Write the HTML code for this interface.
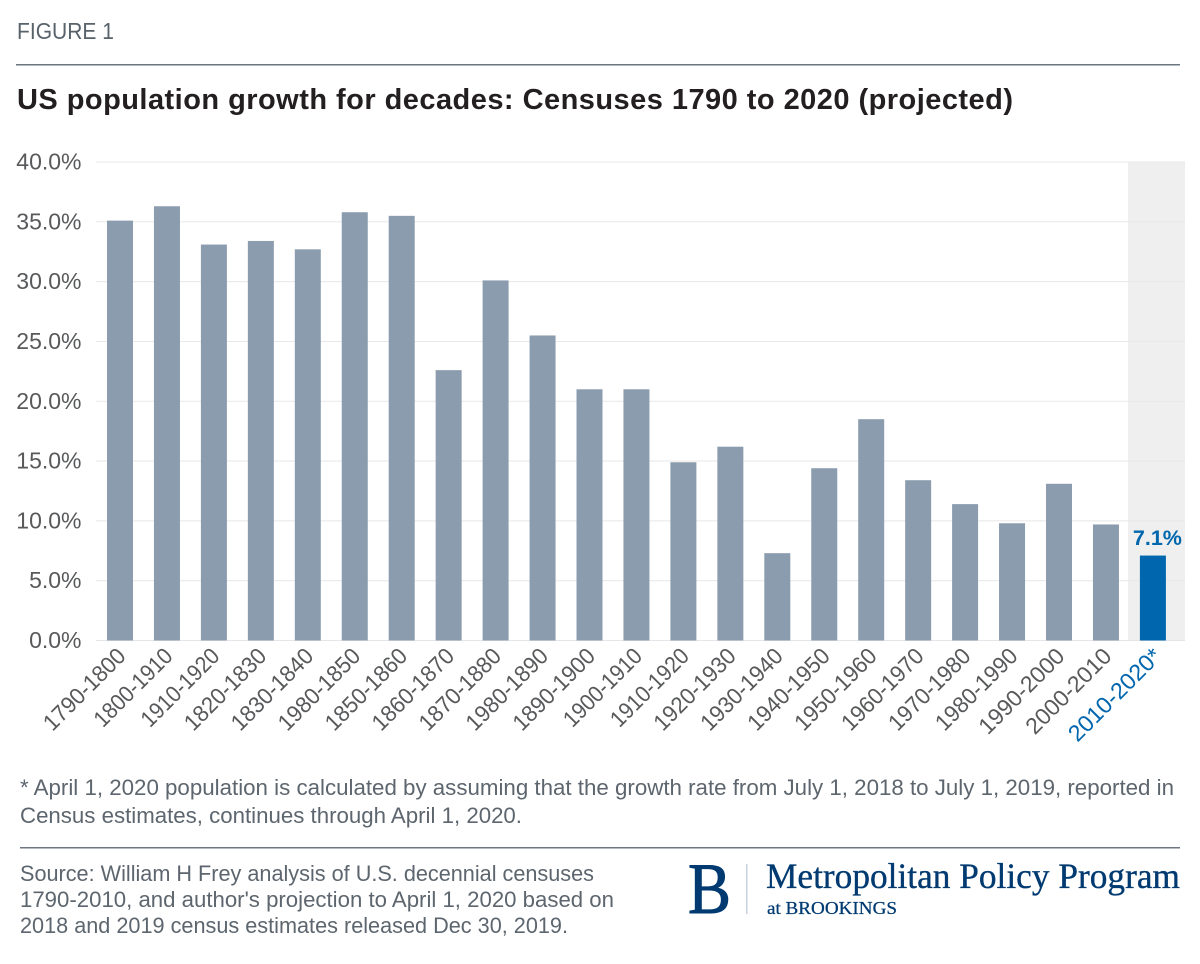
<!DOCTYPE html>
<html lang="en">
<head>
<meta charset="utf-8">
<title>US population growth for decades</title>
<style>
html,body{margin:0;padding:0;background:#fff;width:1200px;height:964px;overflow:hidden}
svg{display:block;font-family:"Liberation Sans",sans-serif}
</style>
</head>
<body>
<svg id="chart" xmlns="http://www.w3.org/2000/svg" width="1200" height="964" viewBox="0 0 1200 964">
  <text x="17" y="39" font-size="23.5" fill="#58626b" textLength="97" lengthAdjust="spacingAndGlyphs">FIGURE 1</text>
  <rect x="16" y="64" width="1164" height="1.5" fill="#6b7680"/>
  <text x="17" y="109" font-size="29" font-weight="700" fill="#231f20" textLength="996" lengthAdjust="spacing">US population growth for decades: Censuses 1790 to 2020 (projected)</text>

  <rect x="1128" y="162" width="57" height="478" fill="#efefef"/>
  <g id="grid"></g>
  <g id="yticks"></g>
  <g id="bars"></g>
  <g id="xticks"></g>

  <text x="20" y="795" font-size="22.5" fill="#5d666e" textLength="1154" lengthAdjust="spacingAndGlyphs">* April 1, 2020 population is calculated by assuming that the growth rate from July 1, 2018 to July 1, 2019, reported in</text>
  <text x="20" y="823" font-size="22.5" fill="#5d666e" textLength="502" lengthAdjust="spacingAndGlyphs">Census estimates, continues through April 1, 2020.</text>
  <rect x="20" y="847" width="1160" height="1.5" fill="#6b7680"/>
  <text x="20" y="881" font-size="22.5" fill="#5d666e" textLength="574" lengthAdjust="spacingAndGlyphs">Source: William H Frey analysis of U.S. decennial censuses</text>
  <text x="20" y="907" font-size="22.5" fill="#5d666e" textLength="594" lengthAdjust="spacingAndGlyphs">1790-2010, and author's projection to April 1, 2020 based on</text>
  <text x="20" y="933" font-size="22.5" fill="#5d666e" textLength="548" lengthAdjust="spacingAndGlyphs">2018 and 2019 census estimates released Dec 30, 2019.</text>

  <g>
    <text x="688" y="913" font-family="'Liberation Serif',serif" font-size="72" fill="#003a70" stroke="#003a70" stroke-width="1" textLength="43" lengthAdjust="spacingAndGlyphs">B</text>
    <rect x="746" y="864" width="1.5" height="50" fill="#c9d2de"/>
    <text x="766" y="888" font-family="'Liberation Serif',serif" font-size="36" fill="#003a70" stroke="#003a70" stroke-width="0.35" textLength="414" lengthAdjust="spacingAndGlyphs">Metropolitan Policy Program</text>
    <text x="767" y="914" font-family="'Liberation Serif',serif" font-size="17.5" fill="#003a70" stroke="#003a70" stroke-width="0.25" textLength="130" lengthAdjust="spacingAndGlyphs">at BROOKINGS</text>
  </g>
</svg>
<script>
const categories = ["1790-1800","1800-1910","1910-1920","1820-1830","1830-1840","1980-1850","1850-1860","1860-1870","1870-1880","1980-1890","1890-1900","1900-1910","1910-1920","1920-1930","1930-1940","1940-1950","1950-1960","1960-1970","1970-1980","1980-1990","1990-2000","2000-2010","2010-2020*"];
const growthValues = [35.1,36.3,33.1,33.4,32.7,35.8,35.5,22.6,30.1,25.5,21.0,21.0,14.9,16.2,7.3,14.4,18.5,13.4,11.4,9.8,13.1,9.7,7.1];
const yTicks = [0,5,10,15,20,25,30,35,40];
const highlightedCategory = "2010-2020*";

const NS = "http://www.w3.org/2000/svg";
const plot = {left: 96, right: 1185, top: 162, bottom: 640.5, yMax: 40, firstCenter: 120, step: 46.95, barWidth: 26};
const labelSize = 23;
function yScale(v) { return plot.bottom - (v / plot.yMax) * (plot.bottom - plot.top); }
function xScale(i) { return plot.firstCenter + i * plot.step; }
function labelLength(s) {
  let em = 0;
  for (const ch of s) em += ch === "1" ? 0.36 : ch === "-" ? 0.38 : ch === "*" ? 0.45 : 0.58;
  return em * labelSize;
}
function make(tag, attrs, text) {
  const el = document.createElementNS(NS, tag);
  for (const k in attrs) el.setAttribute(k, attrs[k]);
  if (text !== undefined) el.textContent = text;
  return el;
}
const gridG = document.getElementById("grid");
const yG = document.getElementById("yticks");
const barG = document.getElementById("bars");
const xG = document.getElementById("xticks");

yTicks.forEach(function (t) {
  const line = make("rect", {x: plot.left, y: yScale(t) - 0.5, width: plot.right - plot.left, height: 1, fill: t === 0 ? "#e6e6e9" : "#e8e8e8"});
  
  
  gridG.appendChild(line);
  const label = make("text", {x: 81.5, y: yScale(t) + 7.5, "font-size": labelSize, fill: "#58595b", "text-anchor": "end"}, t.toFixed(1) + "%");
  
  
  yG.appendChild(label);
});

categories.forEach(function (c, i) {
  const hi = c === highlightedCategory;
  const v = growthValues[i];
  const bar = make("rect", {x: xScale(i) - plot.barWidth / 2, y: yScale(v), width: plot.barWidth, height: plot.bottom - yScale(v), fill: hi ? "#0066ad" : "#8a9cae"});
  
  
  barG.appendChild(bar);
  if (hi) {
    const val = make("text", {x: xScale(i) + 4.5, y: yScale(v) - 10.5, "font-size": 21.5, "font-weight": 700, fill: "#0066ad", "text-anchor": "middle"}, v.toFixed(1) + "%");
    
    
    barG.appendChild(val);
  }
  const tx = xScale(i) + (hi ? 10 : 7);
  const ty = plot.bottom + 17;
  const label = make("text", {x: tx, y: ty, "font-size": labelSize, fill: hi ? "#0066ad" : "#58595b", "text-anchor": "end", textLength: labelLength(c), lengthAdjust: "spacingAndGlyphs", transform: "rotate(-45 " + tx + " " + ty + ")"}, c);
  
  
  xG.appendChild(label);
});
</script>
</body>
</html>
